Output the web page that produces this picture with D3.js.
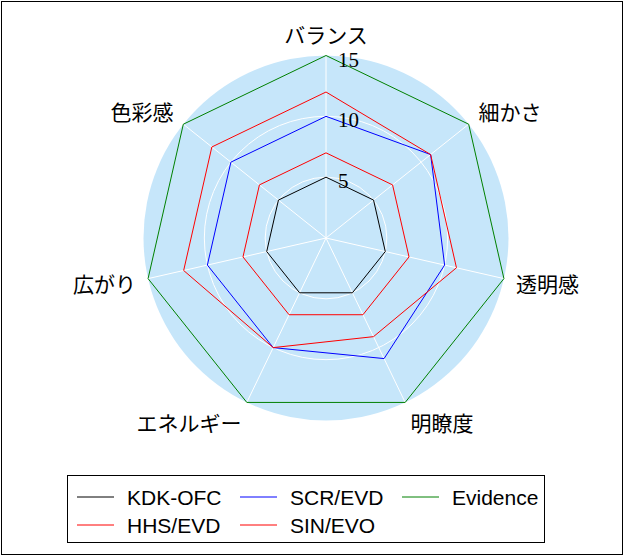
<!DOCTYPE html>
<html><head><meta charset="utf-8">
<script src="https://cdn.jsdelivr.net/npm/d3@7/dist/d3.min.js"></script>
<style>body{margin:0;background:#fff}svg{display:block}</style>
</head><body>
<svg id="c" width="624" height="556"></svg>
<script>
const axes = ["バランス","細かさ","透明感","明瞭度","エネルギー","広がり","色彩感"];
const seriesNames = ["KDK-OFC","SCR/EVD","Evidence","HHS/EVD","SIN/EVO"];
const kdkOfc   = [5,5,5,5,5,5,5];
const scrEvd   = [10,11,10,11,10,10,10];
const evidence = [15,15,15,15,15,15,15];
const hhsEvd   = [12,11,11,9,10,12,12];
const sinEvo   = [7,7,7,7,7,7,7];
const seriesColors = ["#000000","#0000ff","#008000","#ff0000","#ff0000"];
const tickValues = [5,10,15];

const svg = d3.select("#c");
const W = 624, H = 556;
svg.append("rect").attr("x",1.5).attr("y",1.5).attr("width",W-3).attr("height",H-3)
  .attr("fill","#fff").attr("stroke","#000").attr("stroke-width",1);

const cx = 326, cy = 238;
const r = d3.scaleLinear().domain([0,15]).range([0,182.5]);
const ang = d3.scalePoint().domain(axes).range([0, 2*Math.PI*(axes.length-1)/axes.length]);
const g = svg.append("g").attr("transform",`translate(${cx},${cy})`);

g.append("circle").attr("r", r(15)).attr("fill","#c6e6fa");
tickValues.slice(0,-1).forEach(v=>{
  g.append("circle").attr("r", r(v)).attr("fill","none").attr("stroke","#fff").attr("stroke-width",1);
});
axes.forEach(a=>{
  const t = ang(a);
  g.append("line").attr("x1",0).attr("y1",0)
   .attr("x2", r(15)*Math.sin(t)).attr("y2", -r(15)*Math.cos(t))
   .attr("stroke","#fff").attr("stroke-width",1);
});

const data = [kdkOfc, scrEvd, evidence, hhsEvd, sinEvo];
const line = d3.lineRadial().angle((d,i)=>ang(axes[i])).radius(d=>r(d)).curve(d3.curveLinearClosed);
data.forEach((s,i)=>{
  g.append("path").attr("d", line(s)).attr("fill","none")
   .attr("stroke", seriesColors[i]).attr("stroke-width",1);
});

// tick labels
tickValues.forEach(v=>{
  g.append("text").attr("x", 12).attr("y", -r(v)+4).attr("dominant-baseline","central")
   .attr("font-family","'Liberation Serif', serif").attr("font-size",21).attr("fill","#000").text(v);
});

// axis labels
const LR = 195;
axes.forEach(a=>{
  const t = ang(a), s = Math.sin(t), c = Math.cos(t);
  const anchor = s > 0.1 ? "start" : (s < -0.1 ? "end" : "middle");
  g.append("text").attr("x", LR*s).attr("y", -LR*c - 9*c)
   .attr("text-anchor", anchor).attr("dominant-baseline","central")
   .attr("font-family","'Noto Sans CJK JP', sans-serif").attr("font-size",21).attr("fill","#000").text(a);
});

// legend
const lg = svg.append("g");
lg.append("rect").attr("x",67.5).attr("y",475.5).attr("width",477).attr("height",67)
  .attr("fill","#fff").attr("stroke","#000").attr("stroke-width",1);
const colX = [77, 240, 402], rowY = [497, 525];
seriesNames.forEach((n,i)=>{
  const x = colX[i%3], y = rowY[Math.floor(i/3)];
  lg.append("line").attr("x1",x).attr("x2",x+37).attr("y1",y).attr("y2",y)
    .attr("stroke",seriesColors[i]).attr("stroke-width",1);
  lg.append("text").attr("x",x+50).attr("y",y).attr("dominant-baseline","central")
    .attr("font-family","'Liberation Sans', Arial, sans-serif").attr("font-size",21).attr("fill","#000").text(n);
});
</script>
</body></html>
